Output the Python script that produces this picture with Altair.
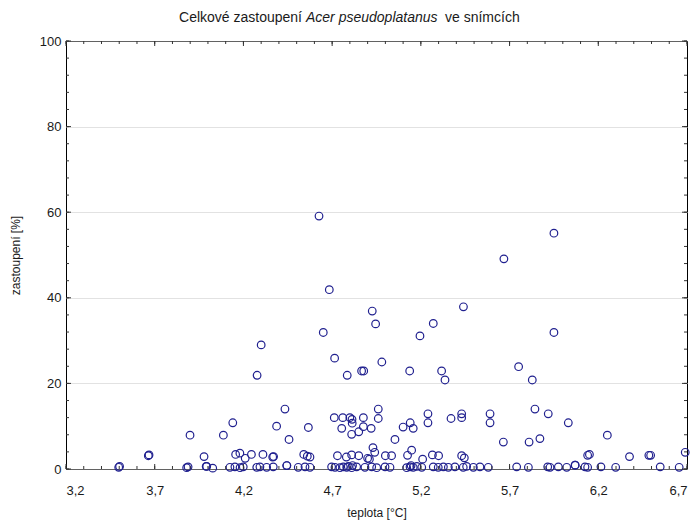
import altair as alt
import numpy as np
import pandas as pd

# Total share of Acer pseudoplatanus in plots vs. mean temperature
teplota = [
    # points lying on the baseline
    3.497, 3.502, 3.880, 3.888, 3.993, 4.027, 4.124, 4.152, 4.181, 4.199,
    4.275, 4.293, 4.331, 4.368, 4.444, 4.509, 4.547, 4.575, 4.697, 4.716,
    4.744, 4.763, 4.782, 4.791, 4.810, 4.815, 4.838, 4.885, 4.923, 4.951,
    4.998, 5.026, 5.120, 5.139, 5.145, 5.157, 5.177, 5.205, 5.270, 5.298,
    5.327, 5.355, 5.392, 5.439, 5.458, 5.496, 5.533, 5.580, 5.740, 5.806,
    5.915, 5.928, 5.975, 6.022, 6.069, 6.125, 6.140, 6.215, 6.298, 6.549,
    6.656,
    # low values
    3.664, 3.668, 3.978, 4.156, 4.180, 4.210, 4.245, 4.310, 4.365, 4.370,
    4.540, 4.560, 4.575, 4.730, 4.780, 4.810, 4.850, 4.900, 4.910, 4.940,
    4.930, 5.000, 5.035, 5.125, 5.148, 5.210, 5.265, 5.300, 5.430, 5.445,
    6.140, 6.150, 6.376, 6.485, 6.495, 6.690, 4.445, 6.070, 3.990,
    # medium values
    3.899, 4.087, 4.140, 4.387, 4.434, 4.457, 4.566, 4.712, 4.760, 4.800,
    4.812, 4.876, 4.754, 4.813, 4.876, 4.810, 4.850, 4.920, 4.960, 4.960,
    5.054, 5.100, 5.140, 5.157, 5.240, 5.240, 5.370, 5.430, 5.430, 5.590,
    5.590, 5.665, 5.810, 5.871, 5.843, 5.918, 6.031, 6.251,
    # high values
    4.277, 4.785, 4.866, 4.878, 5.137, 5.317, 5.336, 5.828, 5.751, 4.980,
    4.714, 4.300, 4.650, 5.195, 4.945, 5.270, 4.926, 5.440, 4.684, 4.626,
    5.668, 5.950, 5.950,
]
zastoupeni = [
    0.4, 0.6, 0.3, 0.5, 0.6, 0.2, 0.4, 0.5, 0.3, 0.5,
    0.4, 0.5, 0.4, 0.5, 0.8, 0.4, 0.5, 0.4, 0.5, 0.4,
    0.3, 0.5, 0.4, 0.6, 0.3, 0.8, 0.5, 0.4, 0.5, 0.3,
    0.5, 0.4, 0.3, 0.5, 0.8, 0.4, 0.6, 0.4, 0.5, 0.4,
    0.5, 0.4, 0.5, 0.4, 0.6, 0.4, 0.5, 0.4, 0.5, 0.4,
    0.5, 0.4, 0.5, 0.4, 0.9, 0.5, 0.4, 0.5, 0.4, 0.5,
    0.4,
    3.1, 3.3, 2.9, 3.4, 3.7, 2.5, 3.4, 3.4, 2.8, 2.9,
    3.4, 3.0, 2.8, 3.1, 2.8, 3.3, 3.1, 2.5, 2.3, 3.9,
    5.0, 3.1, 3.1, 3.2, 4.4, 2.3, 3.3, 3.1, 3.1, 2.6,
    3.2, 3.4, 2.9, 3.2, 3.2, 3.9, 0.8, 0.9, 0.6,
    7.9, 7.9, 10.8, 10.0, 14.0, 6.9, 9.7, 12.0, 12.0, 12.0,
    11.6, 12.0, 9.5, 10.7, 9.9, 8.1, 8.7, 9.5, 14.0, 11.8,
    6.9, 9.8, 10.8, 9.5, 12.9, 10.8, 11.8, 12.9, 12.0, 12.9,
    10.8, 6.3, 6.3, 7.1, 14.0, 12.9, 10.8, 7.9,
    21.9, 21.9, 22.9, 22.9, 22.9, 22.9, 20.8, 20.8, 23.9, 25.0,
    25.9, 29.0, 31.9, 31.1, 33.9, 34.0, 36.9, 37.9, 41.9, 59.1,
    49.1, 55.1, 31.9,
]

x_labels = [3.2, 3.7, 4.2, 4.7, 5.2, 5.7, 6.2, 6.7]
y_labels = [0, 20, 40, 60, 80, 100]

W, H = 621, 428
FONT = "Liberation Sans"
INK = "#1a1a1a"

points = pd.DataFrame({"teplota": teplota, "zastoupeni": zastoupeni})
x_minor = pd.DataFrame({"teplota": np.round(np.arange(3.2, 6.71, 0.1), 2)})
x_major = pd.DataFrame({"teplota": x_labels})
y_minor = pd.DataFrame({"zastoupeni": np.arange(0, 101, 4)})
y_major = pd.DataFrame({"zastoupeni": y_labels})

x_scale = alt.Scale(domain=[3.2, 6.7], nice=False, zero=False)
y_scale = alt.Scale(domain=[0, 100], nice=False)

x_axis = alt.Axis(values=x_labels, ticks=False, domain=False, grid=False,
                  labelExpr="replace(format(datum.value, '.1f'), '.', ',')",
                  labelPadding=15, titlePadding=10,
                  labelFont=FONT, labelFontSize=13, labelColor=INK,
                  titleFont=FONT, titleFontSize=12, titleFontWeight="normal", titleColor=INK)
y_axis = alt.Axis(values=y_labels, ticks=False, domain=False, grid=True,
                  labelPadding=5, titlePadding=17,
                  gridColor="#c4c4c4", gridDash=[1, 1], gridWidth=1,
                  labelFont=FONT, labelFontSize=13, labelColor=INK,
                  titleFont=FONT, titleFontSize=12, titleFontWeight="normal", titleColor=INK)
X = alt.X("teplota:Q", scale=x_scale, title="teplota [°C]", axis=x_axis)
Y = alt.Y("zastoupeni:Q", scale=y_scale, title="zastoupení [%]", axis=y_axis)

scatter = alt.Chart(points).mark_point(
    shape="circle", filled=False, size=58, strokeWidth=1.2, color="#20208f", opacity=1
).encode(x=X, y=Y)

def xticks(df, y0, y1):
    return alt.Chart(df).mark_rule(color="#333", strokeWidth=1).encode(
        x=X, y=alt.value(y0), y2=alt.value(y1))

def yticks(df, x0, x1):
    return alt.Chart(df).mark_rule(color="#333", strokeWidth=1).encode(
        y=Y, x=alt.value(x0), x2=alt.value(x1))

ticks = [
    xticks(x_minor, H, H - 3), xticks(x_major, H, H - 5),
    xticks(x_minor, 0, 3), xticks(x_major, 0, 5),
    yticks(y_minor, 0, 3), yticks(y_major, 0, 5),
    yticks(y_minor, W, W - 3), yticks(y_major, W, W - 5),
]

# chart title with the species name in italics
def title_piece(text, x, align, italic):
    return alt.Chart(pd.DataFrame({"t": [text]})).mark_text(
        align=align, baseline="middle", font=FONT, fontSize=14,
        fontStyle="italic" if italic else "normal", color=INK
    ).encode(text="t:N", x=alt.value(x), y=alt.value(-23))

title = [
    title_piece("Celkové zastoupení", 236, "right", False),
    title_piece("Acer pseudoplatanus", 240, "left", True),
    title_piece("ve snímcích", 379, "left", False),
]

chart = alt.layer(scatter, *ticks, *title).properties(
    width=W, height=H,
    background="white",
    autosize=alt.AutoSizeParams(type="none"),
    padding={"left": 66, "top": 41, "right": 12, "bottom": 52},
).configure_view(
    stroke="#000", strokeWidth=1
)

chart.save("out.html", embed_options={"renderer": "svg", "actions": False})
